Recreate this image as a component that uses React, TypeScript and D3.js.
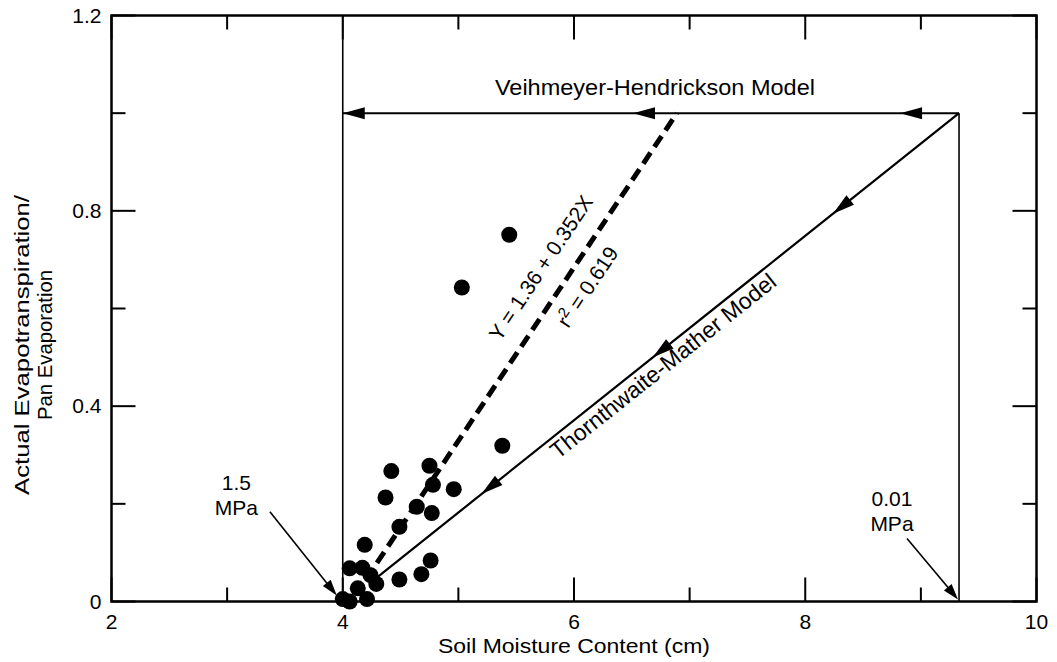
import React from 'react';
import * as d3 from 'd3';

// observed points: soil moisture (cm) vs AET/PET ratio
const soilMoisture = [
  5.44, 5.03, 5.38, 4.42, 4.37, 4.75, 4.78, 4.96, 4.64, 4.77, 4.49, 4.19,
  4.76, 4.68, 4.49, 4.06, 4.17, 4.24, 4.29, 4.13, 4.21, 4.0, 4.06,
];
const etRatio = [
  0.751, 0.643, 0.319, 0.267, 0.213, 0.278, 0.239, 0.23, 0.194, 0.181, 0.153, 0.116,
  0.084, 0.056, 0.045, 0.068, 0.069, 0.054, 0.036, 0.027, 0.005, 0.005, 0.0,
];

const xTickLabels = [2, 4, 6, 8, 10];
const yTickLabels = [0, 0.4, 0.8, 1.2];

// model lines
const wiltingPoint = 4.0; // 1.5 MPa
const fieldCapacity = 9.33; // 0.01 MPa
const vhLevel = 1.0;
const vhArrowTips = [8.82, 6.51, 4.0];
const tmStart = [4.3, 0.05];
const tmArrowTips = [8.24, 6.68, 5.2];
const regression = [[4.2, 0.045], [6.89, 1.0]];

const W = 1057;
const H = 662;
const margin = { top: 15.5, right: 20.5, bottom: 60.5, left: 111.5 };
const FONT = 'Liberation Sans, Arial, Helvetica, sans-serif';

const App: React.FC = () => {
  const x = d3.scaleLinear().domain([2, 10]).range([margin.left, W - margin.right]);
  const y = d3.scaleLinear().domain([0, 1.2]).range([H - margin.bottom, margin.top]);

  const x0 = x.range()[0], x1 = x.range()[1];
  const y0 = y.range()[0], y1 = y.range()[1];

  const head = (tx: number, ty: number, ang: number, len = 22, hw = 6, key?: string) => {
    // ang: direction the arrow points (radians, screen coords)
    const bx = tx - len * Math.cos(ang), by = ty - len * Math.sin(ang);
    const px = -Math.sin(ang) * hw, py = Math.cos(ang) * hw;
    return (
      <polygon key={key} points={`${tx},${ty} ${bx + px},${by + py} ${bx - px},${by - py}`} fill="#000" />
    );
  };

  const tmSlope = (vhLevel - tmStart[1]) / (fieldCapacity - tmStart[0]);
  const tmY = (v: number) => vhLevel - (fieldCapacity - v) * tmSlope;
  const tmAng = Math.atan2(y(tmStart[1]) - y(vhLevel), x(tmStart[0]) - x(fieldCapacity));
  // screen angles (negative = rising to the right)
  const tmRad = Math.atan2(y(vhLevel) - y(tmStart[1]), x(fieldCapacity) - x(tmStart[0]));
  const regRad = Math.atan2(y(regression[1][1]) - y(regression[0][1]), x(regression[1][0]) - x(regression[0][0]));
  const deg = (r: number) => (r * 180) / Math.PI;

  // label on the lower-right side of the Thornthwaite-Mather line
  const tmLx = x(6.7) + 13 * -Math.sin(tmRad);
  const tmLy = y(tmY(6.7)) + 13 * Math.cos(tmRad);

  const xTicks = x.ticks(8);
  const yTicks = y.ticks(6);
  const major = 24, minor = 14;

  const pointer = (sx: number, sy: number, tx: number, ty: number) => {
    const a = Math.atan2(ty - sy, tx - sx);
    return (
      <g>
        <line x1={sx} y1={sy} x2={tx - 10 * Math.cos(a)} y2={ty - 10 * Math.sin(a)} stroke="#000" strokeWidth={1.6} />
        {head(tx, ty, a, 16, 5)}
      </g>
    );
  };

  const yMid = 345;

  return (
    <svg width={W} height={H} style={{ position: 'absolute', left: 0, top: 0, background: '#fff' }} fontFamily={FONT}>
      {/* frame */}
      <rect x={x0} y={y1} width={x1 - x0} height={y0 - y1} fill="none" stroke="#000" strokeWidth={2.5} />
      {xTicks.map((t) => {
        const len = xTickLabels.includes(t) ? major : minor;
        return (
          <g key={'xt' + t}>
            <line x1={x(t)} x2={x(t)} y1={y0} y2={y0 - len} stroke="#000" strokeWidth={2} />
            <line x1={x(t)} x2={x(t)} y1={y1} y2={y1 + len} stroke="#000" strokeWidth={2} />
          </g>
        );
      })}
      {yTicks.map((t) => {
        const len = yTickLabels.some((v) => Math.abs(v - t) < 1e-9) ? major : minor;
        return (
          <g key={'yt' + t}>
            <line x1={x0} x2={x0 + len} y1={y(t)} y2={y(t)} stroke="#000" strokeWidth={2} />
            <line x1={x1} x2={x1 - len} y1={y(t)} y2={y(t)} stroke="#000" strokeWidth={2} />
          </g>
        );
      })}
      {xTickLabels.map((t) => (
        <text key={'xl' + t} x={x(t)} y={y0 + 27} fontSize={21} textAnchor="middle">{t}</text>
      ))}
      {yTickLabels.map((t) => (
        <text key={'yl' + t} x={x0 - 10} y={y(t) + 7} fontSize={21} textAnchor="end">{t === 0 ? '0' : t.toFixed(1)}</text>
      ))}
      <text x={(x0 + x1) / 2} y={y0 + 51} fontSize={21} textAnchor="middle" textLength={272} lengthAdjust="spacingAndGlyphs">Soil Moisture Content (cm)</text>
      <text transform={`translate(29,${yMid}) rotate(-90)`} fontSize={21} textAnchor="middle" textLength={300} lengthAdjust="spacingAndGlyphs">Actual Evapotranspiration/</text>
      <text transform={`translate(52,${yMid}) rotate(-90)`} fontSize={21} textAnchor="middle" textLength={150} lengthAdjust="spacingAndGlyphs">Pan Evaporation</text>

      {/* vertical limits */}
      <line x1={x(wiltingPoint)} x2={x(wiltingPoint)} y1={y0} y2={y1} stroke="#000" strokeWidth={1.6} />
      <line x1={x(fieldCapacity)} x2={x(fieldCapacity)} y1={y0} y2={y(vhLevel)} stroke="#000" strokeWidth={1.6} />

      {/* Veihmeyer-Hendrickson */}
      <line x1={x(fieldCapacity)} x2={x(wiltingPoint)} y1={y(vhLevel)} y2={y(vhLevel)} stroke="#000" strokeWidth={2} />
      {vhArrowTips.map((t, i) => head(x(t), y(vhLevel), Math.PI, 22, 6, 'vh' + i))}
      <text x={x(6.7)} y={y(1.037)} fontSize={22} textAnchor="middle" textLength={320} lengthAdjust="spacingAndGlyphs">Veihmeyer-Hendrickson Model</text>

      {/* Thornthwaite-Mather */}
      <line x1={x(fieldCapacity)} y1={y(vhLevel)} x2={x(tmStart[0])} y2={y(tmStart[1])} stroke="#000" strokeWidth={2.2} />
      {tmArrowTips.map((t, i) => head(x(t), y(tmY(t)), tmAng, 22, 6, 'tm' + i))}
      <text transform={`translate(${tmLx},${tmLy}) rotate(${deg(tmRad)})`} fontSize={23} textAnchor="middle" dy={8}>Thornthwaite-Mather Model</text>

      {/* regression */}
      <line x1={x(regression[0][0])} y1={y(regression[0][1])} x2={x(regression[1][0])} y2={y(regression[1][1])}
        stroke="#000" strokeWidth={5} strokeDasharray="13,7" />
      <text transform={`translate(${x(5.715)},${y(0.683)}) rotate(${deg(regRad)})`} fontSize={21} textAnchor="middle" dy={7}>Y = 1.36 + 0.352X</text>
      <text transform={`translate(${x(6.12)},${y(0.644)}) rotate(${deg(regRad)})`} fontSize={21} textAnchor="middle" dy={7}>
        r<tspan dy={-8} fontSize={15}>2</tspan><tspan dy={8}> = 0.619</tspan>
      </text>

      {/* points */}
      {soilMoisture.map((v, i) => (
        <circle key={'p' + i} cx={x(v)} cy={y(etRatio[i])} r={8} fill="#000" />
      ))}

      {/* pressure annotations */}
      <text x={x(3.08)} y={y(0.228)} fontSize={21} textAnchor="middle">1.5</text>
      <text x={x(3.08)} y={y(0.177)} fontSize={21} textAnchor="middle">MPa</text>
      {pointer(x(3.37), y(0.184), x(wiltingPoint) - 6, y0 - 6)}
      <text x={x(8.75)} y={y(0.196)} fontSize={21} textAnchor="middle">0.01</text>
      <text x={x(8.75)} y={y(0.144)} fontSize={21} textAnchor="middle">MPa</text>
      {pointer(x(8.88), y(0.129), x(fieldCapacity) - 1, y0 - 2)}
    </svg>
  );
};

export default App;
